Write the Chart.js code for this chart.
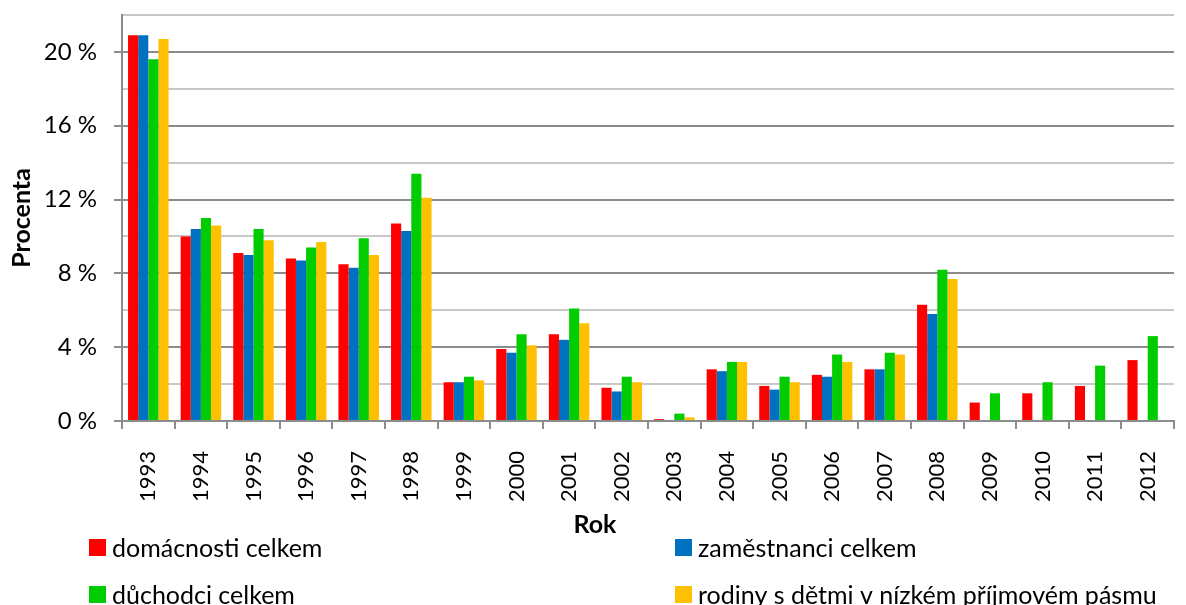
<!DOCTYPE html>
<html lang="cs">
<head>
<meta charset="utf-8">
<title>Procenta podle roku</title>
<script src="https://cdn.jsdelivr.net/npm/chart.js@4.4.1/dist/chart.umd.min.js"></script>
<style>
  html, body { margin: 0; padding: 0; background: #ffffff; }
  #wrap { width: 1186px; height: 605px; }
</style>
</head>
<body>
<div id="wrap"><canvas id="c" width="1186" height="605"></canvas></div>
<script>
// Roky (kategorie osy X)
const years = ['1993','1994','1995','1996','1997','1998','1999','2000','2001','2002',
               '2003','2004','2005','2006','2007','2008','2009','2010','2011','2012'];

// Hodnoty v procentech
const domacnosti = [20.9, 10.0, 9.1, 8.8, 8.5, 10.7, 2.1, 3.9, 4.7, 1.8,
                    0.1, 2.8, 1.9, 2.5, 2.8, 6.3, 1.0, 1.5, 1.9, 3.3];
const zamestnanci = [20.9, 10.4, 9.0, 8.7, 8.3, 10.3, 2.1, 3.7, 4.4, 1.6,
                     null, 2.7, 1.7, 2.4, 2.8, 5.8, null, null, null, null];
const duchodci = [19.6, 11.0, 10.4, 9.4, 9.9, 13.4, 2.4, 4.7, 6.1, 2.4,
                  0.4, 3.2, 2.4, 3.6, 3.7, 8.2, 1.5, 2.1, 3.0, 4.6];
const rodiny = [20.7, 10.6, 9.8, 9.7, 9.0, 12.1, 2.2, 4.1, 5.3, 2.1,
                0.2, 3.2, 2.1, 3.2, 3.6, 7.7, null, null, null, null];

const seriesLabels = ['domácnosti celkem', 'zaměstnanci celkem', 'důchodci celkem',
                      'rodiny s dětmi v nízkém příjmovém pásmu'];
const seriesColors = ['#FF0000', '#0070C0', '#00CC00', '#FFC000'];

// Osa Y: 0–22 %, mřížka po 2 %, popisky po 4 %
const yMin = 0, yMax = 22, yStep = 2, yLabelStep = 4;

const FONT = 'Lato, "Open Sans", "DejaVu Sans", sans-serif';

// Popisek osy X a legenda ve dvou sloupcích
const bottomTexts = {
  id: 'bottomTexts',
  afterDraw(chart) {
    const ctx = chart.ctx;
    ctx.save();
    ctx.fillStyle = '#000';
    ctx.textBaseline = 'middle';

    ctx.font = 'bold 25px ' + FONT;
    ctx.textAlign = 'center';
    ctx.fillText('Rok', 595, 525);

    ctx.font = '25px ' + FONT;
    ctx.textAlign = 'left';
    const cols = [89, 675];
    const rows = [547.5, 594.5];
    chart.data.datasets.forEach((ds, i) => {
      const x = cols[i % 2];
      const y = rows[Math.floor(i / 2)];
      ctx.fillStyle = ds.backgroundColor;
      ctx.fillRect(x, y - 8.5, 17, 17);
      ctx.fillStyle = '#000';
      ctx.fillText(ds.label, x + 23, y + 1);
    });
    ctx.restore();
  }
};

const values = [domacnosti, zamestnanci, duchodci, rodiny];

new Chart(document.getElementById('c'), {
  type: 'bar',
  data: {
    labels: years,
    datasets: values.map((v, i) => ({
      label: seriesLabels[i],
      data: v,
      backgroundColor: seriesColors[i],
      borderWidth: 0,
      categoryPercentage: 0.77,
      barPercentage: 1.0
    }))
  },
  options: {
    responsive: false,
    animation: false,
    layout: { padding: { top: 15, right: 12, left: 0, bottom: 0 } },
    plugins: {
      legend: { display: false },
      tooltip: { enabled: false }
    },
    scales: {
      x: {
        offset: true,
        afterFit(scale) {
          scale.height = 184;
          scale.paddingLeft = 0;
          scale.paddingRight = 0;
        },
        grid: {
          offset: true,
          drawOnChartArea: false,
          tickLength: 8,
          color: '#8c8c8c',
          lineWidth: 2
        },
        border: { color: '#8c8c8c', width: 2 },
        ticks: {
          minRotation: 90,
          maxRotation: 90,
          padding: 22,
          color: '#000',
          font: { family: FONT, size: 22 }
        }
      },
      y: {
        min: yMin,
        max: yMax,
        afterFit(scale) {
          scale.width = 122;
          scale.paddingTop = 0;
          scale.paddingBottom = 0;
        },
        grid: {
          color: (c) => (c.tick && c.tick.value % yLabelStep === 0) ? '#8c8c8c' : '#c8c8c8',
          tickColor: (c) => (c.tick && c.tick.value % yLabelStep === 0) ? '#8c8c8c' : 'rgba(0,0,0,0)',
          lineWidth: 2,
          tickLength: 8
        },
        border: { color: '#8c8c8c', width: 2 },
        ticks: {
          stepSize: yStep,
          padding: 17,
          color: '#000',
          font: { family: FONT, size: 24 },
          callback: (v) => (v % yLabelStep === 0) ? v + ' %' : ''
        },
        title: {
          display: true,
          text: 'Procenta',
          color: '#000',
          font: { family: FONT, size: 25, weight: 'bold' },
          padding: { top: 7, bottom: 0 }
        }
      }
    }
  },
  plugins: [bottomTexts]
});
</script>
</body>
</html>
